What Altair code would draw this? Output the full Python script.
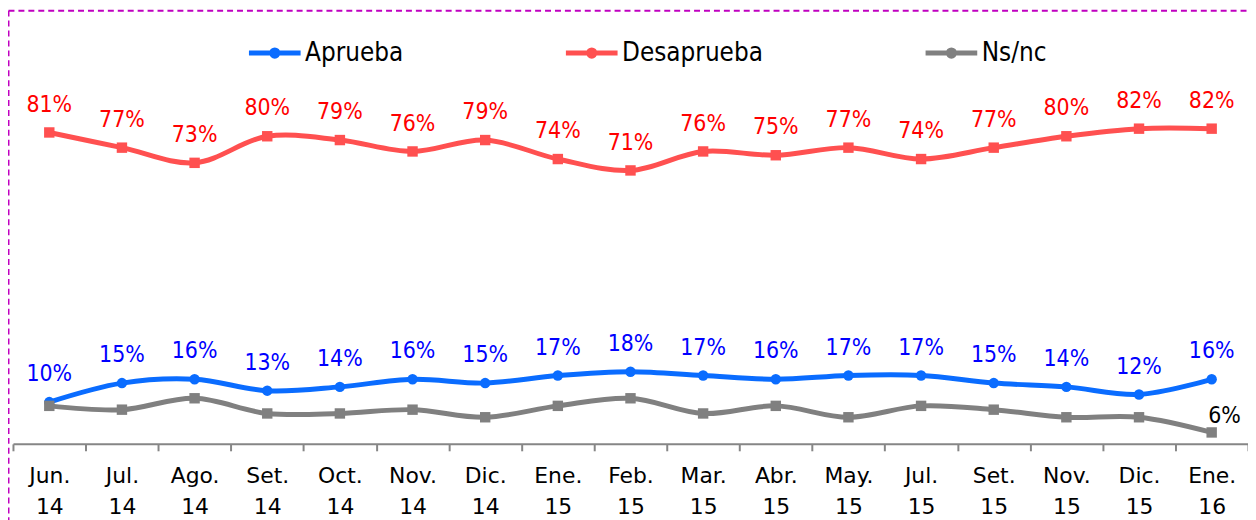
import altair as alt
import pandas as pd

meses = ["Jun. 14", "Jul. 14", "Ago. 14", "Set. 14", "Oct. 14", "Nov. 14", "Dic. 14",
         "Ene. 15", "Feb. 15", "Mar. 15", "Abr. 15", "May. 15", "Jul. 15", "Set. 15",
         "Nov. 15", "Dic. 15", "Ene. 16"]
aprueba = [10, 15, 16, 13, 14, 16, 15, 17, 18, 17, 16, 17, 17, 15, 14, 12, 16]
desaprueba = [81, 77, 73, 80, 79, 76, 79, 74, 71, 76, 75, 77, 74, 77, 80, 82, 82]
nsnc = [9, 8, 11, 7, 7, 8, 6, 9, 11, 7, 9, 6, 9, 8, 6, 6, 2]
etiqueta_nsnc = [""] * 16 + ["6%"]

series = ["Aprueba", "Desaprueba", "Ns/nc"]
color_linea = ["#0A6CFF", "#FF5050", "#808080"]
color_texto = ["#0000FF", "#FF0000", "#000000"]
formas = ["circle", "square", "square"]

rows = []
for i, m in enumerate(meses):
    rows.append({"mes": m, "serie": "Aprueba", "valor": aprueba[i], "etiqueta": f"{aprueba[i]}%"})
    rows.append({"mes": m, "serie": "Desaprueba", "valor": desaprueba[i], "etiqueta": f"{desaprueba[i]}%"})
    rows.append({"mes": m, "serie": "Ns/nc", "valor": nsnc[i], "etiqueta": etiqueta_nsnc[i]})
df = pd.DataFrame(rows)

W, H = 1243, 386
FUENTE = "DejaVu Sans Condensed, DejaVu Sans, sans-serif"

x_enc = alt.X(
    "mes:N", sort=meses, bandPosition=0.5,
    scale=alt.Scale(type="band", paddingInner=0, paddingOuter=0),
    axis=alt.Axis(
        title=None, labelAngle=0, labelExpr="split(datum.label, ' ')",
        domainColor="#868686", domainWidth=2, tickColor="#868686", tickWidth=2,
        tickSize=7, tickBand="extent", labelFont="DejaVu Sans", labelFontSize=22,
        labelColor="#000000", labelLineHeight=31, labelPadding=15, labelBaseline="top",
    ),
)
y_enc = alt.Y("valor:Q", scale=alt.Scale(domain=[-1, 100], nice=False, zero=False), axis=None)

base = alt.Chart(df)

lineas = base.mark_line(strokeWidth=5, interpolate="catmull-rom").encode(
    x=x_enc, y=y_enc,
    color=alt.Color(
        "serie:N", scale=alt.Scale(domain=series, range=color_linea),
        legend=alt.Legend(
            title=None, orient="none", legendX=235, legendY=-36, direction="horizontal",
            columns=3, columnPadding=153, padding=0,
            symbolType="M-1,0L1,0M-0.12,0a0.12,0.12 0 1,0 0.24,0a0.12,0.12 0 1,0 -0.24,0",
            symbolSize=2704, symbolStrokeWidth=5,
            labelFont=FUENTE, labelFontSize=26, labelColor="#000000",
            labelOffset=2, labelLimit=300,
        ),
    ),
    detail="serie:N",
)

capas = [lineas]
for s, c, f in zip(series, color_linea, formas):
    capas.append(
        base.transform_filter(alt.datum.serie == s)
        .mark_point(filled=True, size=110, opacity=1, shape=f, color=c)
        .encode(x=x_enc, y=y_enc)
    )

for s, c in zip(series, color_texto):
    if s == "Ns/nc":
        t = base.transform_filter(alt.datum.serie == s).mark_text(
            font=FUENTE, fontSize=23, color=c, dx=13, dy=-17,
            align="center", baseline="middle",
        )
    else:
        t = base.transform_filter(alt.datum.serie == s).mark_text(
            font=FUENTE, fontSize=23, color=c, dy=-28,
            align="center", baseline="middle",
        )
    capas.append(t.encode(x=x_enc, y=y_enc, text="etiqueta:N"))

borde_df = pd.DataFrame({"k": [0]})
borde_sup = alt.Chart(borde_df).mark_rule(color="#C000C0", strokeWidth=2, strokeDash=[6, 4]).encode(
    x=alt.value(-4.5), x2=alt.value(W + 10), y=alt.value(-50)
)
borde_izq = alt.Chart(borde_df).mark_rule(color="#C000C0", strokeWidth=2, strokeDash=[6, 4]).encode(
    x=alt.value(-4.5), y=alt.value(-50), y2=alt.value(H + 90)
)

chart = alt.layer(borde_sup, borde_izq, *capas).properties(
    width=W, height=H,
    padding={"left": 5, "top": 51, "right": 0, "bottom": 75},
    autosize=alt.AutoSizeParams(type="none"),
    background="white",
).configure_view(stroke=None)

chart.save("out.html", embed_options={"renderer": "svg", "actions": False})
